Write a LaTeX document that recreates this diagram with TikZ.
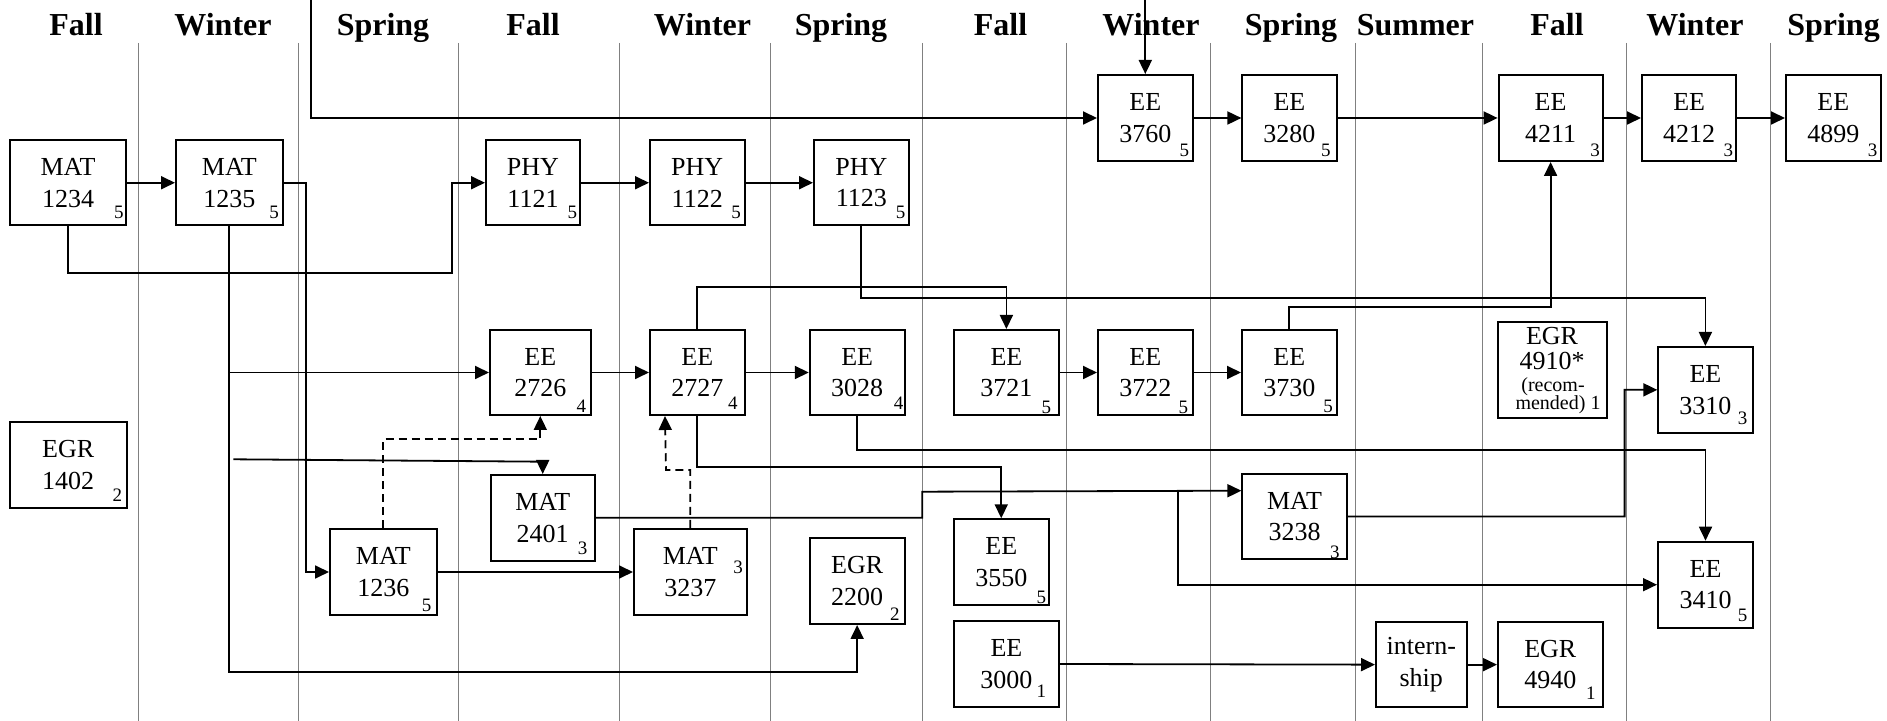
\documentclass[tikz,border=0pt]{standalone}
\usepackage{fontspec}
\setmainfont{Liberation Serif}
\usetikzlibrary{arrows.meta,calc}
\tikzset{
  box/.style={draw, fill=white, line width=1pt, inner sep=0pt, align=center,
    font=\fontsize{13}{15.85}\selectfont},
  cr/.style={anchor=base east, inner sep=0pt, font=\fontsize{9.5}{10}\selectfont},
  hdr/.style={anchor=base, inner sep=0pt, font=\fontsize{16}{18}\selectfont\bfseries},
  gridline/.style={draw=black!50, line width=0.5pt},
  conn/.style={line width=0.9pt, -{Triangle[length=7pt,width=6.5pt]}},
  dsh/.style={conn, dash pattern=on 4pt off 2.5pt},
  smalltxt/.style={anchor=base, inner sep=0pt, font=\fontsize{10}{11}\selectfont},
  midtxt/.style={anchor=base, inner sep=0pt, font=\fontsize{13}{15}\selectfont},
}
\newcommand{\course}[9]{%
  \node[box, minimum width={(#4-#2)*0.5pt}, minimum height={(#5-#3)*0.5pt}]
    (#1) at ({(#2+#4)/2},{(#3+#5)/2}) {#6};
  \node[cr] (#1c) at (#8,#9) {#7};
}
\begin{document}
\begin{tikzpicture}[x=0.5pt,y=-0.5pt]
\useasboundingbox (0,0) rectangle (1887,721);

% column separators
\foreach \gx in {138.5,298,458,619,770,922,1066.5,1210.6,1355,1482,1626.6,1770.4}
  \draw[gridline] (\gx,43) -- (\gx,721);

% headers
\node[hdr] (h1) at (76,36) {Fall};
\node[hdr] (h2) at (223,36) {Winter};
\node[hdr] (h3) at (383,36) {Spring};
\node[hdr] (h4) at (533,36) {Fall};
\node[hdr] (h5) at (702.5,36) {Winter};
\node[hdr] (h6) at (841,36) {Spring};
\node[hdr] (h7) at (1000.5,36) {Fall};
\node[hdr] (h8) at (1151,36) {Winter};
\node[hdr] (h9) at (1291,36) {Spring};
\node[hdr] (h10) at (1415.5,36) {Summer};
\node[hdr] (h11) at (1557,36) {Fall};
\node[hdr] (h12) at (1695,36) {Winter};
\node[hdr] (h13) at (1833.5,36) {Spring};

% courses
\course{ee3760}{1098}{75}{1192.6}{161}{EE\\3760}{5}{1189.4}{156.7}
\course{ee3280}{1242.4}{75}{1336.5}{161}{EE\\3280}{5}{1331}{156.7}
\course{ee4211}{1498.6}{75}{1602.6}{161}{EE\\4211}{3}{1600.2}{156.7}
\course{ee4212}{1642}{75}{1736.3}{161}{EE\\4212}{3}{1733.4}{156.7}
\course{ee4899}{1786}{75}{1880.5}{161}{EE\\4899}{3}{1877.7}{156.7}
\course{mat1234}{10}{140}{126}{225.5}{MAT\\1234}{5}{124}{218.3}
\course{mat1235}{176}{140}{282.7}{225.5}{MAT\\1235}{5}{279.3}{218.3}
\course{phy1121}{486}{140}{580}{225.5}{PHY\\1121}{5}{577.6}{218.3}
\course{phy1122}{650}{140}{744.5}{225.5}{PHY\\1122}{5}{741.2}{218.3}
\course{phy1123}{814}{140}{908.6}{225.5}{PHY\\1123}{5}{905.7}{218.3}
\course{ee2726}{490}{330}{590.6}{415}{EE\\2726}{4}{586.5}{412.7}
\course{ee2727}{650}{330}{744.5}{415}{EE\\2727}{4}{738}{410}
\course{ee3028}{809.8}{330}{904.5}{415}{EE\\3028}{4}{903.7}{410}
\course{ee3721}{954}{330}{1058.8}{415}{EE\\3721}{5}{1051.4}{413.3}
\course{ee3722}{1098}{330}{1192.6}{415}{EE\\3722}{5}{1188.6}{413.3}
\course{ee3730}{1242}{330}{1336.5}{415}{EE\\3730}{5}{1333.3}{412.7}
\course{ee3310}{1658.3}{347}{1752.5}{432.7}{EE\\3310}{3}{1747.7}{425}
\course{egr1402}{10}{422}{126.5}{507.7}{EGR\\1402}{2}{122.4}{501.7}
\course{mat2401}{490.7}{475}{594.7}{560.7}{MAT\\2401}{3}{587.8}{555}
\course{mat1236}{330}{529}{436.7}{615}{MAT\\1236}{5}{431.8}{611.7}
\course{mat3237}{634}{529}{746.5}{615}{MAT\\3237}{3}{743.3}{573.3}
\course{egr2200}{809.8}{538.3}{904.5}{624}{EGR\\2200}{2}{900}{620.7}
\course{ee3550}{954}{519.3}{1048.5}{605}{EE\\3550}{5}{1046.5}{603.3}
\course{ee3000}{954}{621}{1058.8}{707}{EE\\3000}{1}{1046.5}{697.7}
\course{mat3238}{1242.4}{474}{1346.7}{559}{MAT\\3238}{3}{1340}{558.3}
\course{ee3410}{1658}{541.7}{1753}{627.7}{EE\\3410}{5}{1747.7}{621.7}
\course{egr4940}{1498}{622}{1602.6}{707.3}{EGR\\4940}{1}{1596}{700}

\node[box, minimum width={90.5*0.5pt}, minimum height={85.3*0.5pt}]
  (internship) at (1421.25,664.65) {intern-\\ship};

\node[box, minimum width={108.7*0.5pt}, minimum height={95.7*0.5pt}]
  (egr4910) at (1552.35,369.85) {};
\node[midtxt] (egr4910a) at (1552,345) {EGR};
\node[midtxt] (egr4910b) at (1552,369.3) {4910*};
\node[smalltxt] (egr4910c) at (1553,391.7) {(recom-};
\node[smalltxt] (egr4910d) at (1558,410) {mended) 1};

% free ends
\coordinate (t1) at (311,0);
\coordinate (t2) at (1145.3,0);
\coordinate (b1) at (229.35,372.5);
\coordinate (b2) at (233.3,459.3);
\coordinate (b3) at (1177.7,491.7);

% connectors
\draw[conn] (t1) |- (ee3760.west);
\draw[conn] (t2) -- (ee3760.north);
\draw[conn] (ee3760) -- (ee3280);
\draw[conn] (ee3280) -- (ee4211);
\draw[conn] (ee4211) -- (ee4212);
\draw[conn] (ee4212) -- (ee4899);

\draw[conn] (mat1234) -- (mat1235);
\draw[conn] (mat1234.south) |- (452,273) |- (phy1121.west);
\draw[conn] (phy1121) -- (phy1122);
\draw[conn] (phy1122) -- (phy1123);

\draw[conn] (mat1235.east) -| (306,572) -- (mat1236.west);
\draw[conn] (mat1235.south) |- (857.15,672) -- (egr2200.south);
\draw[conn] (b1) -- (ee2726.west);
\draw[conn] (b2) -- (542.7,461.7) -- (mat2401.north);
\draw[dsh] (mat1236.north) |- (540.3,439.3) -- (ee2726.south);

\draw[conn] (ee2726) -- (ee2727);
\draw[conn] (ee2727) -- (ee3028);
\draw[conn] (ee2727.north) |- (1006.4,286.7) -- (ee3721.north);
\draw[conn] (ee2727.south) |- (1001.25,467) -- (ee3550.north);
\draw[dsh] (mat3237.north) |- (666,470) -- ($(ee2727.south west)+(16,0)$);

\draw[conn] (phy1123.south) |- (1705.4,298.3) -- (ee3310.north);
\draw[conn] (ee3028.south) |- (1705.5,450) -- (ee3410.north);

\draw[conn] (ee3721) -- (ee3722);
\draw[conn] (ee3722) -- (ee3730);
\draw[conn] (ee3730.north) |- (1550.6,306.7) -- (ee4211.south);

\draw[conn] (mat1236) -- (mat3237);
\draw[conn] (mat2401.east) -| (922.3,491.7) -- ($(mat3238.north west)+(0,17.7)$);
\draw[conn] (b3) |- (ee3410.west);
\draw[conn] (mat3238.east) -| (1624.6,389.85) -- (ee3310.west);

\draw[conn] (ee3000.east) -- (internship.west);
\draw[conn] (internship) -- (egr4940);
\end{tikzpicture}
\end{document}
